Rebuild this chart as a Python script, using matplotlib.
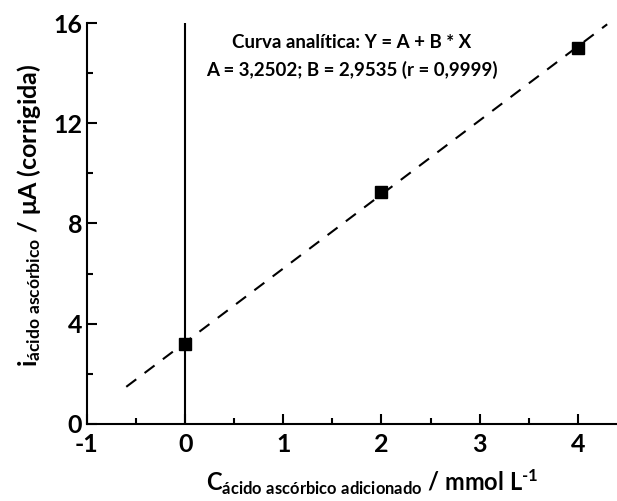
import numpy as np
import matplotlib.pyplot as plt
from matplotlib.ticker import MultipleLocator

# Data
conc = [0, 2, 4]              # mmol/L added
current = [3.2, 9.25, 15.0]   # uA (corrected)
A, B = 3.2502, 2.9535         # fit parameters shown in the chart
fit_x = [-0.6, 4.3]

plt.rcParams['font.family'] = ['Lato', 'DejaVu Sans']
plt.rcParams['font.weight'] = 'bold'
plt.rcParams['axes.unicode_minus'] = False
plt.rcParams['mathtext.fontset'] = 'custom'
plt.rcParams['mathtext.rm'] = 'Lato:bold'
plt.rcParams['mathtext.bf'] = 'Lato:bold'
plt.rcParams['mathtext.it'] = 'Lato:bold'

fig = plt.figure(figsize=(6.17, 5.01), dpi=100)
ax = fig.add_axes([0.141, 0.154, 0.859, 0.800])

fx = np.array(fit_x)
ax.plot(fx, A + B * fx, color='black', lw=1.5, linestyle=(0, (6, 5)))
ax.plot(conc, current, 's', color='black', markersize=8)
ax.plot([0, 0], [0, 16], color='black', lw=1.5)

ax.set_xlim(-1, 4.4)
ax.set_ylim(0, 16)
ax.xaxis.set_major_locator(MultipleLocator(1))
ax.xaxis.set_minor_locator(MultipleLocator(0.5))
ax.yaxis.set_major_locator(MultipleLocator(4))
ax.yaxis.set_minor_locator(MultipleLocator(2))
ax.tick_params(which='both', direction='in', width=1.5, labelsize=18)
ax.tick_params(which='major', length=7)
ax.tick_params(which='minor', length=4)
ax.tick_params(axis='x', pad=6.5)
ax.spines['top'].set_visible(False)
ax.spines['right'].set_visible(False)
ax.spines['left'].set_linewidth(1.5)
ax.spines['bottom'].set_linewidth(1.5)

for lbl in ax.get_xticklabels() + ax.get_yticklabels():
    lbl.set_fontweight('bold')

ax.set_xlabel(r'$\mathrm{C}_{\mathrm{ácido\ ascórbico\ adicionado}}$ / mmol L$^{\text{-1}}$',
              fontsize=17, fontweight='bold')
ax.xaxis.set_label_coords(0.538, -0.108)
ax.set_ylabel(r'$\mathrm{i}_{\mathrm{ácido\ ascórbico}}$ / μA (corrigida)',
              fontsize=18, fontweight='bold')
ax.yaxis.set_label_coords(-0.083, 0.52)

ax.text(0.5, 0.952, 'Curva analítica: Y = A + B * X', transform=ax.transAxes,
        ha='center', va='center', fontsize=13.5, fontweight='bold')
ax.text(0.5, 0.884, 'A = 3,2502; B = 2,9535 (r = 0,9999)', transform=ax.transAxes,
        ha='center', va='center', fontsize=13.5, fontweight='bold')

fig.savefig('out.png', dpi=100)
